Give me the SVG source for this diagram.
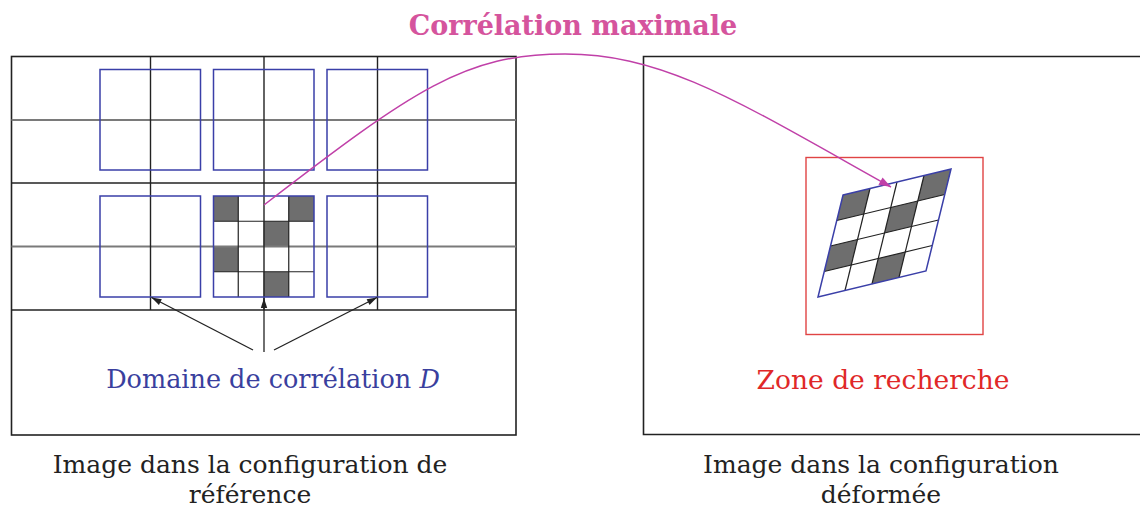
<svg xmlns="http://www.w3.org/2000/svg" width="1140" height="508" viewBox="0 0 1140 508">
  <defs>
    <marker id="blackArrow" viewBox="0 0 10 10" refX="10" refY="5" markerWidth="14" markerHeight="10" markerUnits="userSpaceOnUse" orient="auto">
      <path d="M0,1.8 L10,5 L0,8.2 Z" fill="#222"/>
    </marker>
    <marker id="magArrow" viewBox="0 0 10 10" refX="10" refY="5" markerWidth="16" markerHeight="12" markerUnits="userSpaceOnUse" orient="auto">
      <path d="M0,1.5 L10,5 L0,8.5 Z" fill="#c040a8"/>
    </marker>
    <style>
      .frame{fill:none;stroke:#222;stroke-width:1.6}
      .gk{stroke:#222;stroke-width:1.4}
      .gg{stroke:#7a7a7a;stroke-width:1.8}
      .blue{fill:none;stroke:#3a3fa8;stroke-width:1.5}
      .dark{fill:#6e6e6e}
      .cell{stroke:#222;stroke-width:1.2;fill:none}
      .txt{font-family:"DejaVu Serif","Liberation Serif",serif;font-size:25px;fill:#222}
      .title{font-family:"DejaVu Serif","Liberation Serif",serif;font-size:27px;font-weight:bold;fill:#d5549d}
      .ptr{stroke:#222;stroke-width:1.3;fill:none}
    </style>
  </defs>
  <rect width="1140" height="508" fill="#fff"/>

  <text class="title" x="573" y="35" text-anchor="middle">Corrélation maximale</text>

  <g id="image-reference">
    <rect class="frame" x="11.5" y="56.5" width="504.5" height="378.5"/>
    <g id="correlation-domain-cells">
      <rect class="dark" x="213" y="196" width="25.25" height="25.25"/>
      <rect class="dark" x="288.75" y="196" width="25.25" height="25.25"/>
      <rect class="dark" x="263.5" y="221.25" width="25.25" height="25.25"/>
      <rect class="dark" x="213" y="246.5" width="25.25" height="25.25"/>
      <rect class="dark" x="263.5" y="271.75" width="25.25" height="25.25"/>
    </g>
    <line class="gg" x1="11.5" y1="120" x2="516" y2="120"/>
    <line class="gk" x1="11.5" y1="183" x2="516" y2="183"/>
    <line class="gg" x1="11.5" y1="246.5" x2="516" y2="246.5"/>
    <line class="gk" x1="11.5" y1="310" x2="516" y2="310"/>
    <line class="gk" x1="150.5" y1="56.5" x2="150.5" y2="310"/>
    <line class="gk" x1="264" y1="56.5" x2="264" y2="310"/>
    <line class="gk" x1="377.5" y1="56.5" x2="377.5" y2="310"/>
    <g class="cell">
      <line x1="238.25" y1="196" x2="238.25" y2="297"/>
      <line x1="288.75" y1="196" x2="288.75" y2="297"/>
      <line x1="213" y1="221.25" x2="314" y2="221.25"/>
      <line x1="213" y1="271.75" x2="314" y2="271.75"/>
    </g>
    <rect class="blue" x="100" y="69.5" width="100.5" height="100.5"/>
    <rect class="blue" x="213.5" y="69.5" width="100.5" height="100.5"/>
    <rect class="blue" x="327" y="69.5" width="100.5" height="100.5"/>
    <rect class="blue" x="100" y="196" width="100.5" height="101"/>
    <rect class="blue" x="213.5" y="196" width="100.5" height="101"/>
    <rect class="blue" x="327" y="196" width="100.5" height="101"/>
    <text class="txt" x="273" y="388" text-anchor="middle" style="fill:#3a3f9e;font-size:25.5px">Domaine de corrélation <tspan font-style="italic">D</tspan></text>
  </g>

  <g id="image-deformed">
    <path class="frame" d="M1145,56.5 H643.5 V434.5 H1145"/>
    <rect id="search-zone" x="806" y="157.5" width="177" height="177" fill="none" stroke="#e04444" stroke-width="1.4"/>
    <g id="deformed-domain">
      <polygon class="dark" points="843,195 870,188.5 863.75,214 836.75,220.5"/>
      <polygon class="dark" points="924,175.5 951,169 944.75,194.5 917.75,201"/>
      <polygon class="dark" points="890.75,207.5 917.75,201 911.5,226.5 884.5,233"/>
      <polygon class="dark" points="830.5,246 857.5,239.5 851.25,265 824.25,271.5"/>
      <polygon class="dark" points="878.25,258.5 905.25,252 899,277.5 872,284"/>
      <g class="cell">
        <line x1="836.75" y1="220.5" x2="944.75" y2="194.5"/>
        <line x1="830.5" y1="246" x2="938.5" y2="220"/>
        <line x1="824.25" y1="271.5" x2="932.25" y2="245.5"/>
        <line x1="870" y1="188.5" x2="845" y2="290.5"/>
        <line x1="897" y1="182" x2="872" y2="284"/>
        <line x1="924" y1="175.5" x2="899" y2="277.5"/>
      </g>
      <polygon points="843,195 951,169 926,271 818,297" fill="none" stroke="#3a3fa8" stroke-width="1.5"/>
    </g>
    <text class="txt" x="883" y="389" text-anchor="middle" style="fill:#e02828;font-size:26.5px">Zone de recherche</text>
  </g>

  <g id="connectors">
    <path d="M264,205 C414,89.5 465,54 565,54 C665,54 739,102 891,187" fill="none" stroke="#c040a8" stroke-width="1.5" marker-end="url(#magArrow)"/>
    <line class="ptr" x1="253" y1="350" x2="151.5" y2="297.5" marker-end="url(#blackArrow)"/>
    <line class="ptr" x1="264" y1="352" x2="264" y2="298" marker-end="url(#blackArrow)"/>
    <line class="ptr" x1="274" y1="350" x2="377" y2="297.5" marker-end="url(#blackArrow)"/>
  </g>

  <g id="captions">
    <text class="txt" x="250" y="473" text-anchor="middle">Image dans la configuration de</text>
    <text class="txt" x="250" y="503" text-anchor="middle">référence</text>
    <text class="txt" x="881" y="473" text-anchor="middle">Image dans la configuration</text>
    <text class="txt" x="881" y="503" text-anchor="middle">déformée</text>
  </g>
</svg>
